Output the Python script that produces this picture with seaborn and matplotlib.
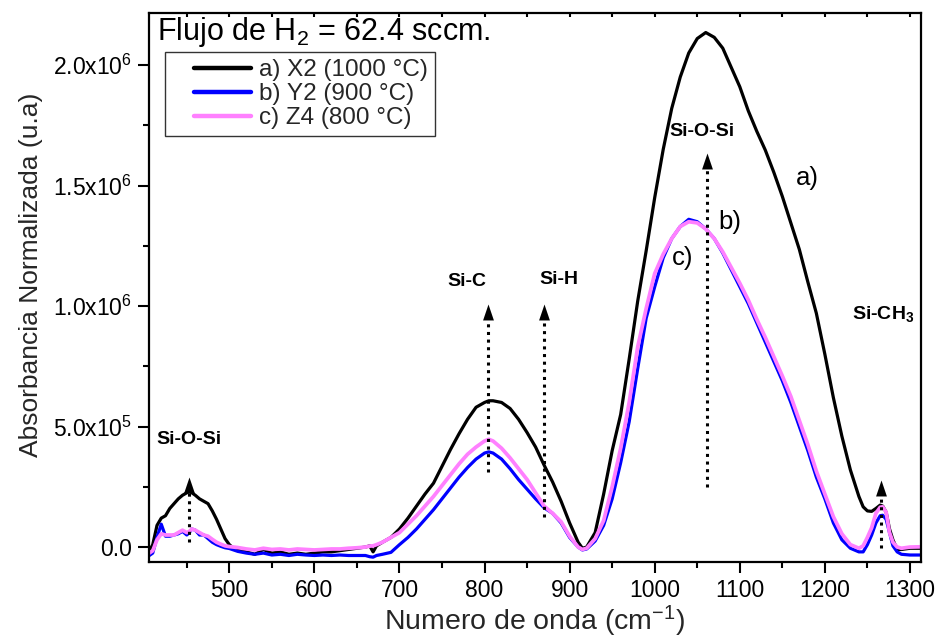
import numpy as np
import pandas as pd
import matplotlib
matplotlib.use("Agg")
import matplotlib.pyplot as plt
import seaborn as sns
from matplotlib.ticker import MultipleLocator, FuncFormatter

# Wavenumber grid (cm^-1) shared by the three spectra
wavenumber = [
    406, 410, 415, 420, 425, 430, 435, 440, 445, 450,
    453, 456, 460, 465, 470, 475, 480, 485, 490, 495,
    500, 505, 510, 520, 530, 540, 550, 560, 570, 580,
    590, 600, 610, 620, 630, 640, 650, 660, 665, 669,
    673, 680, 690, 700, 710, 720, 730, 740, 750, 760,
    770, 780, 790, 800, 805, 810, 820, 830, 840, 850,
    860, 870, 880, 890, 900, 910, 915, 920, 930, 940,
    950, 960, 970, 980, 990, 1000, 1010, 1020, 1030, 1040,
    1050, 1060, 1070, 1080, 1090, 1100, 1110, 1120, 1130, 1140,
    1150, 1160, 1170, 1180, 1190, 1200, 1210, 1220, 1230, 1240,
    1245, 1250, 1255, 1260, 1265, 1268, 1272, 1276, 1280, 1285,
    1290, 1300, 1312,
]

# Normalized absorbance, in units of 1e6
absorb_x2 = [
    -0.015, 0.01, 0.09, 0.12, 0.13, 0.16, 0.18, 0.20, 0.215, 0.225,
    0.23, 0.225, 0.215, 0.20, 0.19, 0.18, 0.15, 0.115, 0.075, 0.035,
    0.01, -0.005, -0.01, -0.02, -0.03, -0.01, -0.025, -0.02, -0.03, -0.025,
    -0.03, -0.025, -0.02, -0.02, -0.015, -0.01, -0.005, 0.0, 0.005, -0.02,
    0.005, 0.02, 0.04, 0.075, 0.12, 0.17, 0.22, 0.265, 0.335, 0.405,
    0.47, 0.53, 0.58, 0.60, 0.607, 0.607, 0.60, 0.575, 0.53, 0.475,
    0.415, 0.34, 0.27, 0.19, 0.10, 0.02, -0.005, 0.0, 0.06, 0.22,
    0.40, 0.55, 0.78, 1.02, 1.23, 1.45, 1.65, 1.82, 1.95, 2.05,
    2.11, 2.135, 2.115, 2.07, 1.99, 1.91, 1.81, 1.725, 1.647, 1.555,
    1.455, 1.345, 1.235, 1.10, 0.97, 0.80, 0.62, 0.46, 0.32, 0.21,
    0.167, 0.15, 0.148, 0.16, 0.174, 0.17, 0.145, 0.075, 0.03, -0.01,
    -0.01, -0.005, -0.005,
]
absorb_y2 = [
    -0.035, -0.025, 0.04, 0.095, 0.045, 0.045, 0.05, 0.055, 0.065, 0.05,
    0.06, 0.075, 0.07, 0.05, 0.05, 0.035, 0.02, 0.01, 0.003, -0.003,
    -0.006, -0.012, -0.018, -0.025, -0.03, -0.025, -0.033, -0.03, -0.035, -0.03,
    -0.033, -0.035, -0.033, -0.035, -0.033, -0.035, -0.035, -0.035, -0.04, -0.042,
    -0.035, -0.03, -0.022, 0.01, 0.04, 0.075, 0.115, 0.155, 0.20, 0.245,
    0.29, 0.33, 0.365, 0.39, 0.395, 0.39, 0.365, 0.325, 0.28, 0.24,
    0.20, 0.163, 0.14, 0.10, 0.04, 0.0, -0.012, -0.008, 0.025, 0.09,
    0.20, 0.35, 0.52, 0.74, 0.95, 1.08, 1.20, 1.28, 1.33, 1.36,
    1.35, 1.32, 1.28, 1.22, 1.15, 1.08, 1.01, 0.93, 0.85, 0.77,
    0.69, 0.60, 0.50, 0.40, 0.29, 0.20, 0.10, 0.03, -0.005, -0.02,
    -0.02, 0.01, 0.05, 0.10, 0.13, 0.132, 0.115, 0.06, 0.005, -0.02,
    -0.03, -0.033, -0.033,
]
absorb_z4 = [
    -0.025, -0.015, 0.03, 0.055, 0.05, 0.05, 0.05, 0.06, 0.07, 0.06,
    0.065, 0.075, 0.07, 0.06, 0.05, 0.045, 0.032, 0.02, 0.012, 0.005,
    0.002, 0.0, -0.002, -0.008, -0.012, -0.005, -0.01, -0.008, -0.012, -0.008,
    -0.01, -0.012, -0.01, -0.008, -0.008, -0.005, -0.003, 0.0, 0.004, 0.005,
    0.01, 0.02, 0.04, 0.06, 0.095, 0.13, 0.17, 0.21, 0.255, 0.30,
    0.345, 0.385, 0.415, 0.44, 0.447, 0.44, 0.41, 0.37, 0.325, 0.28,
    0.225, 0.17, 0.14, 0.105, 0.045, 0.0, -0.01, -0.005, 0.035, 0.11,
    0.25, 0.41, 0.60, 0.83, 0.99, 1.135, 1.215, 1.28, 1.33, 1.35,
    1.345, 1.32, 1.28, 1.225, 1.16, 1.095, 1.025, 0.945, 0.87, 0.79,
    0.71, 0.625, 0.525, 0.425, 0.315, 0.22, 0.126, 0.055, 0.01, -0.005,
    0.005, 0.04, 0.08, 0.14, 0.165, 0.167, 0.145, 0.06, 0.02, 0.0,
    -0.005, 0.0, 0.001,
]

series_labels = ["a) X2 (1000 °C)", "b) Y2 (900 °C)", "c) Z4 (800 °C)"]
series_values = [absorb_x2, absorb_y2, absorb_z4]
series_colors = ["#000000", "#0000FF", "#FF80FF"]
series_widths = [2.3, 2.3, 2.7]

# Band assignments: label, arrow position, arrow base, arrow tip, label position
band_labels = ["Si-O-Si", "Si-C", "Si-H", "Si-O-Si", "Si-CH$_3$"]
band_arrow_x = [453, 804, 870, 1061, 1266]
band_arrow_base = [0.02e6, 0.31e6, 0.125e6, 0.25e6, -0.005e6]
band_arrow_tip = [0.29e6, 1.01e6, 1.01e6, 1.636e6, 0.28e6]
band_text_x = [453, 779, 887, 1055, 1269]
band_text_y = [0.445e6, 1.10e6, 1.11e6, 1.723e6, 0.965e6]

# Curve tags next to the three spectra
tag_text = ["a)", "b)", "c)"]
tag_x = [1180, 1088, 1033]
tag_y = [1.53e6, 1.35e6, 1.20e6]

frames = []
for lab, vals in zip(series_labels, series_values):
    frames.append(pd.DataFrame({
        "wavenumber": wavenumber,
        "absorbance": np.asarray(vals) * 1e6,
        "sample": lab,
    }))
df = pd.concat(frames, ignore_index=True)

sns.set_theme(style="ticks")
plt.rcParams["font.family"] = ["Liberation Sans", "DejaVu Sans"]
plt.rcParams["mathtext.fontset"] = "custom"
plt.rcParams["mathtext.rm"] = "Liberation Sans"
plt.rcParams["mathtext.it"] = "Liberation Sans:italic"
plt.rcParams["mathtext.bf"] = "Liberation Sans:bold"
plt.rcParams["mathtext.default"] = "regular"

fig = plt.figure(figsize=(9.4, 6.4), dpi=100)
ax = fig.add_axes([149 / 940, 1 - 562 / 640, 772 / 940, 549 / 640])

for lab, col, lw in zip(series_labels, series_colors, series_widths):
    sns.lineplot(data=df[df["sample"] == lab], x="wavenumber", y="absorbance",
                 color=col, linewidth=lw, ax=ax, label=lab, sort=False,
                 estimator=None, errorbar=None)

ax.set_xlim(405.6, 1313)
ax.set_ylim(-0.062e6, 2.216e6)

ax.xaxis.set_major_locator(MultipleLocator(100))
ax.xaxis.set_minor_locator(MultipleLocator(50))
ax.yaxis.set_major_locator(MultipleLocator(5e5))
ax.yaxis.set_minor_locator(MultipleLocator(2.5e5))


def sci_label(v, pos):
    if abs(v) < 1:
        return "0.0"
    exp = int(np.floor(np.log10(abs(v))))
    mant = v / 10 ** exp
    return rf"{mant:.1f}x10$^{{{exp}}}$"


ax.yaxis.set_major_formatter(FuncFormatter(sci_label))

for side in ["left", "right", "top", "bottom"]:
    ax.spines[side].set_linewidth(1.6)
    ax.spines[side].set_color("black")

ax.tick_params(axis="both", which="major", direction="out", length=8, width=1.5,
               color="black", labelsize=16.5, labelcolor="black", pad=4)
ax.tick_params(axis="both", which="minor", direction="out", length=4, width=1.5,
               color="black")
ax.tick_params(axis="x", which="both", top=True, labeltop=False)
for t in ax.xaxis.get_major_ticks() + ax.xaxis.get_minor_ticks():
    t.tick2line.set_markersize(3)
    t.tick2line.set_marker(3)

ax.set_xlabel("Numero de onda (cm$^{-1}$)", fontsize=20.5)
ax.xaxis.set_label_coords(0.5, -0.077)
ax.set_ylabel("Absorbancia Normalizada (u.a)", fontsize=19)
ax.yaxis.set_label_coords(-0.137, 0.523)

# Band markers: dotted shaft capped by a solid triangular head
head_marker = [(-0.34, -1.0), (0.34, -1.0), (0.0, 0.0)]
for lab, xa, yb, yt, xt, yt_txt in zip(band_labels, band_arrow_x, band_arrow_base,
                                       band_arrow_tip, band_text_x, band_text_y):
    ax.plot([xa, xa], [yb, yt - 0.04e6], color="black", lw=2.2,
            linestyle=(0, (1, 1.5)), zorder=5)
    ax.plot([xa], [yt], marker=head_marker, markersize=23, color="black",
            markeredgewidth=0, linestyle="none", zorder=6)
    ax.text(xt, yt_txt, lab, ha="center", va="center", fontsize=14,
            fontweight="bold", color="black")

for t, xt, yt in zip(tag_text, tag_x, tag_y):
    ax.text(xt, yt, t, ha="center", va="center", fontsize=18.5, color="black")

ax.text(0.0104, 0.965, "Flujo de H$_2$ = 62.4 sccm.", transform=ax.transAxes,
        ha="left", va="center", fontsize=22, color="black")

leg_fs = 17.5
leg = ax.legend(loc="upper left", bbox_to_anchor=(0.0207, 0.929), borderaxespad=0,
                fontsize=leg_fs, frameon=True, fancybox=False, handlelength=3.25,
                handletextpad=0.3, labelspacing=0.08, borderpad=0.3)
leg.get_frame().set_edgecolor("black")
leg.get_frame().set_linewidth(1.0)
for line in leg.get_lines():
    line.set_linewidth(3.2)
    xd = np.asarray(line.get_xdata(), dtype=float)
    yd = np.asarray(line.get_ydata(), dtype=float)
    x0 = xd.min() + 0.27 * (xd.max() - xd.min())
    line.set_data(np.linspace(x0, xd.max(), len(yd)), yd)

fig.savefig("out.png", dpi=100)
